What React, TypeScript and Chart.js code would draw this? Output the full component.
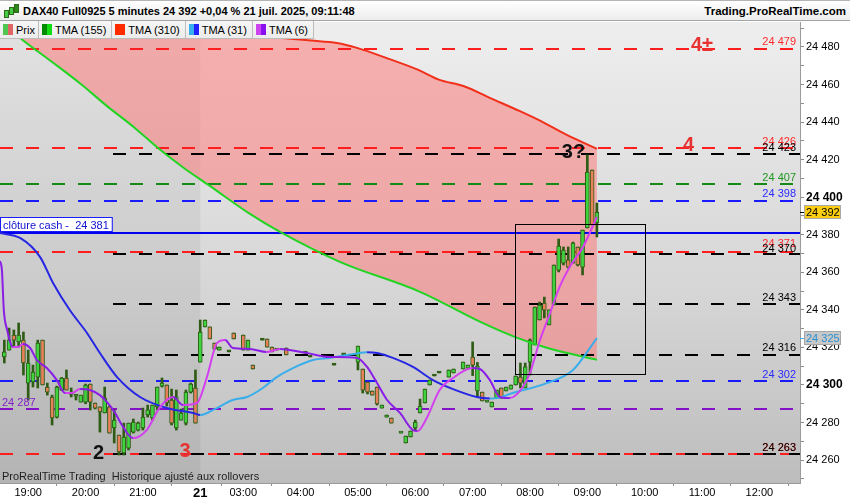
import React, { useEffect, useRef } from 'react';
import { Chart, registerables } from 'chart.js';

Chart.register(...registerables);

const FONT = '"Liberation Sans", Arial, Helvetica, sans-serif';

// ---------- axes ----------
const xTickBars = [3, 15, 27, 39, 48, 60, 72, 84, 96, 108, 120, 132, 144, 156];
const xTickLabels = ['19:00', '20:00', '21:00', '21', '03:00', '04:00', '05:00', '06:00', '07:00', '08:00', '09:00', '10:00', '11:00', '12:00'];
const dayBar = 39;
const xView = [-2.9, 164.5];
const yView = [24247.8, 24493.3];
const yTickValues = [24250, 24260, 24270, 24280, 24290, 24300, 24310, 24320, 24330, 24340, 24350, 24360, 24370, 24380, 24390, 24400, 24410, 24420, 24430, 24440, 24450, 24460, 24470, 24480, 24490];
const yLabelValues = [24260, 24280, 24300, 24320, 24340, 24360, 24380, 24400, 24420, 24440, 24460, 24480];
const yBoldValues = [24300, 24400];

// ---------- price (5 minute bars, index on a bar axis) ----------
const candleBar = [
  -2, -1, 0, 1, 2, 3, 4, 5, 6, 7, 8, 9, 10, 11, 12, 13, 14, 15, 16, 17, 18, 19, 20, 21, 22, 23, 24, 25, 26, 27, 28, 29, 30, 31, 32, 33, 34, 35, 36, 37, 38,
  39, 40, 41, 42, 43, 45, 46, 48, 49, 50, 52, 53, 54, 55, 57, 61, 62, 67, 69,
  72, 73, 74, 75, 76, 77, 78, 79, 81, 82, 83, 84, 85, 86, 87, 88, 89, 91, 92, 94, 95,
  96, 97, 98, 99, 100, 101, 102, 103, 104, 105, 106, 107, 108, 109, 110, 111, 112, 113, 114, 115, 116, 117, 118, 119, 120, 121, 122,
];
const candleOpen = [
  24314.9, 24318.6, 24326.6, 24322.9, 24323.9, 24301.0, 24301.6, 24304.2, 24323.9, 24298.9,
  24293.6, 24282.9, 24297.3, 24303.7, 24295.0, 24294.0, 24290.9, 24290.9, 24300.5, 24290.4,
  24288.3, 24285.1, 24288.3, 24277.1, 24273.3, 24263.8, 24266.4, 24274.9, 24276.0, 24277.1,
  24284.0, 24282.4, 24288.3, 24299.4, 24300.0, 24292.0, 24277.1, 24281.3, 24279.7, 24296.2,
  24298.4,
  24312.2, 24330.9, 24330.9, 24322.3, 24318.6, 24317.6, 24327.7, 24326.6, 24318.6, 24310.6, 24323.9, 24324.5, 24320.2, 24318.6, 24319.7, 24317.0, 24314.9, 24310.6, 24316.0,
  24312.2, 24308.5, 24301.6, 24296.8, 24298.9, 24287.7, 24282.9, 24282.4, 24274.4, 24269.1, 24272.3, 24277.1, 24285.1, 24290.4, 24300.0, 24304.8, 24306.4, 24304.2, 24306.4, 24308.5, 24309.0,
  24314.9, 24296.8, 24296.2, 24290.9, 24288.3, 24293.0, 24298.4, 24296.8, 24297.8, 24300.0, 24304.2, 24298.4, 24312.2, 24321.3, 24334.6, 24343.6, 24332.0, 24342.6, 24361.2, 24364.9, 24366.6, 24364.9, 24373.5, 24362.8, 24383.6, 24414.5, 24386.3,
];
const candleHigh = [
  24323.9, 24330.3, 24329.3, 24333.0, 24328.2, 24318.6, 24310.6, 24323.9, 24323.9, 24301.0,
  24294.6, 24299.4, 24304.0, 24308.0, 24298.4, 24294.6, 24294.6, 24300.5, 24300.5, 24290.4,
  24288.3, 24298.9, 24288.8, 24286.7, 24273.3, 24279.7, 24279.7, 24281.9, 24280.3, 24287.7,
  24289.3, 24289.3, 24298.9, 24303.7, 24300.0, 24297.8, 24297.3, 24287.2, 24297.3, 24301.0,
  24308.0,
  24334.6, 24334.6, 24330.9, 24322.3, 24320.2, 24317.6, 24327.7, 24326.6, 24323.9, 24310.6, 24323.9, 24324.5, 24320.2, 24318.6, 24319.7, 24317.0, 24314.9, 24310.6, 24316.0,
  24320.7, 24308.5, 24301.6, 24296.8, 24298.9, 24289.3, 24284.0, 24282.4, 24274.9, 24272.8, 24275.5, 24281.3, 24292.5, 24297.8, 24302.6, 24304.8, 24306.4, 24308.0, 24308.5, 24312.2, 24310.6,
  24322.9, 24312.0, 24296.2, 24291.5, 24290.9, 24297.3, 24298.4, 24298.9, 24300.0, 24304.8, 24311.7, 24311.7, 24324.5, 24341.5, 24344.2, 24346.8, 24340.0, 24363.9, 24377.7, 24373.5, 24373.5, 24376.1, 24373.5, 24382.5, 24422.5, 24414.5, 24396.9,
];
const candleLow = [
  24311.7, 24318.6, 24320.2, 24320.2, 24305.3, 24292.0, 24298.9, 24298.4, 24300.0, 24294.6,
  24278.7, 24282.4, 24297.0, 24297.3, 24293.6, 24292.0, 24290.9, 24290.0, 24286.7, 24287.2,
  24274.9, 24285.1, 24274.4, 24269.1, 24262.7, 24262.7, 24265.4, 24274.4, 24275.5, 24276.0,
  24282.9, 24281.3, 24286.7, 24298.9, 24288.8, 24278.7, 24276.0, 24281.3, 24278.7, 24295.7,
  24279.7,
  24312.2, 24330.9, 24324.5, 24319.1, 24318.6, 24317.6, 24324.5, 24318.6, 24318.6, 24308.5, 24323.9, 24320.2, 24317.6, 24318.6, 24316.0, 24317.0, 24314.9, 24310.6, 24316.0,
  24308.0, 24295.7, 24295.2, 24294.6, 24289.3, 24287.7, 24282.9, 24279.7, 24274.4, 24269.1, 24272.3, 24276.0, 24285.1, 24290.4, 24300.0, 24304.8, 24306.4, 24304.2, 24306.4, 24308.5, 24309.0,
  24305.0, 24293.6, 24291.5, 24290.9, 24288.3, 24293.0, 24293.0, 24296.8, 24297.8, 24300.0, 24298.4, 24298.4, 24305.3, 24321.3, 24334.6, 24335.7, 24332.0, 24342.6, 24360.2, 24363.9, 24362.3, 24364.9, 24363.4, 24358.6, 24383.6, 24385.2, 24378.8,
];
const candleClose = [
  24317.6, 24323.9, 24323.9, 24326.6, 24311.7, 24311.7, 24306.9, 24322.3, 24300.0, 24296.2,
  24282.4, 24298.9, 24303.7, 24297.3, 24296.2, 24294.5, 24294.6, 24300.0, 24290.9, 24287.7,
  24285.6, 24293.0, 24274.4, 24281.3, 24264.3, 24272.3, 24279.7, 24280.3, 24279.7, 24282.9,
  24286.7, 24289.3, 24298.9, 24301.0, 24290.4, 24279.7, 24293.6, 24285.1, 24296.2, 24300.5,
  24279.7,
  24328.2, 24334.6, 24324.5, 24319.1, 24320.2, 24317.6, 24324.5, 24318.6, 24323.9, 24308.5, 24323.9, 24320.2, 24317.6, 24318.6, 24316.0, 24317.0, 24314.9, 24310.6, 24316.0,
  24320.7, 24297.3, 24296.2, 24294.6, 24289.9, 24289.3, 24284.0, 24279.7, 24274.9, 24272.8, 24275.5, 24280.3, 24288.8, 24297.8, 24302.6, 24304.8, 24306.4, 24308.0, 24308.5, 24312.2, 24310.6,
  24310.6, 24310.0, 24291.5, 24291.5, 24290.9, 24297.3, 24293.0, 24298.9, 24300.0, 24304.8, 24301.0, 24309.6, 24323.9, 24341.5, 24342.6, 24339.9, 24340.0, 24363.9, 24374.0, 24371.9, 24362.8, 24375.6, 24363.9, 24382.5, 24413.4, 24385.2, 24392.0,
];

// ---------- moving averages ----------
const tma310Bar = [-3, 20, 40, 55, 62.2, 67.6, 71.8, 78.3, 84.5, 88.9, 94.2, 99.6, 105.9, 110.3, 115.5, 122];
const tma310Val = [24495, 24491, 24488, 24485, 24483.4, 24482.1, 24479.5, 24473.8, 24467.9, 24462.6, 24459.1, 24452.9, 24445.8, 24440.5, 24433.4, 24425.7];
const tma155Bar = [-3, 1.3, 7.8, 14.2, 19.5, 25.3, 30.1, 35.5, 41.0, 49.4, 55.7, 68.2, 85.0, 97.5, 104.8, 111.5, 122];
const tma155Val = [24494.5, 24484.8, 24472.4, 24459.9, 24448.5, 24436.9, 24426.3, 24415.7, 24406.0, 24391.1, 24381.5, 24365.6, 24349.6, 24333.7, 24325.6, 24319.8, 24313.4];
const tma31Bar = [-2.9, 1.3, 5.5, 8.2, 11.7, 15.3, 18.0, 21.6, 26.4, 32.0, 37.5, 39.0, 41.7, 45.8, 48.8, 52.1, 55.0, 58.4, 62.6, 66.1, 71.8, 73.9, 76.0, 79.3, 83.5, 87.7, 91.9, 96.9, 99.6, 101.1, 104.4, 111.5, 117.0, 122.0];
const tma31Val = [24380.9, 24378.3, 24368.1, 24354.3, 24339.9, 24327.7, 24317.0, 24304.2, 24293.6, 24287.7, 24285.1, 24284.0, 24286.7, 24292.0, 24293.6, 24298.4, 24304.2, 24309.0, 24313.3, 24314.4, 24316.8, 24317.4, 24317.0, 24314.4, 24309.6, 24302.6, 24297.8, 24293.6, 24292.8, 24293.0, 24295.7, 24301.0, 24308.0, 24325.0];
const tma6Bar = [-2.9, -2.5, -2.1, -1.4, -0.2, 0.9, 1.9, 3.4, 4.8, 6.9, 9.0, 10.7, 12.2, 13.8, 15.9, 18.0, 19.5, 21.2, 22.6, 24.9, 27.8, 30.6, 33.3, 35.4, 38.3, 40.4, 42.5, 44.2, 45.8, 49.4, 52.9, 55.7, 61.3, 66.1, 71.8, 73.9, 76.0, 78.1, 80.8, 83.5, 84.5, 86.4, 89.1, 91.9, 96.0, 97.5, 99.6, 101.7, 103.8, 106.5, 108.0, 110.1, 112.2, 114.2, 116.3, 119.1, 122.0];
const tma6Val = [24366.0, 24361.2, 24339.9, 24329.3, 24320.2, 24320.2, 24321.8, 24319.7, 24313.3, 24309.0, 24302.6, 24295.7, 24295.7, 24297.8, 24297.3, 24294.6, 24290.9, 24285.1, 24278.7, 24271.7, 24276.0, 24288.3, 24293.6, 24289.3, 24290.4, 24304.2, 24322.3, 24323.9, 24319.7, 24319.2, 24317.6, 24319.2, 24317.0, 24314.9, 24314.4, 24309.6, 24301.0, 24292.0, 24285.1, 24276.0, 24275.5, 24282.4, 24297.3, 24303.7, 24309.0, 24308.5, 24302.6, 24293.6, 24293.0, 24298.9, 24306.4, 24324.0, 24338.3, 24352.2, 24362.8, 24373.5, 24389.5];

// ---------- horizontal levels ----------
const levelValues = [24479, 24426, 24407, 24398, 24381, 24371, 24302, 24287, 24263, 24423, 24370, 24343, 24316, 24263];
const levelKinds = ['red', 'red', 'green', 'blue', 'cash', 'red', 'blue', 'purple', 'red', 'black', 'black', 'black', 'black', 'black'];
const blackLevelStartBar = 20.7;
const cashLabel = 'clôture cash -  ';

// ---------- annotations ----------
const annText = ['4±', '4', '3?', '2', '3'];
const annBar = [144.0, 141.2, 117.1, 17.7, 35.8];
const annValue = [24480.8, 24427.3, 24423.6, 24263.4, 24264.4];
const annKind = ['red', 'red', 'black', 'black', 'red'];
const boxBars = [104.8, 132.0];
const boxValues = [24385.8, 24305.9];
const sessionStartBar = 39;
const lastPrice = 24392;
const lastTma31 = 24325;

// ---------- header / legend ----------
const titleText = 'DAX40 Full0925 5 minutes 24 392 +0,04 % 21 juil. 2025, 09:11:48';
const siteText = 'Trading.ProRealTime.com';
const footerText = 'ProRealTime Trading  Historique ajusté aux rollovers';
const legendLabels = ['Prix', 'TMA (155)', 'TMA (310)', 'TMA (31)', 'TMA (6)'];
const legendSwatches = [
  ['#4fc64f', '#e06666'],
  ['#008a00', '#12dd12'],
  ['#ff2a00', '#ff2a00'],
  ['#38b0ee', '#2222ff'],
  ['#cc44ee', '#8a10f0'],
];

const UP = '#3fd43f';
const DOWN = '#e8805c';
const OUTLINE = '#2e5c14';

const LEVEL_STYLE: Record<string, { line: string; text: string; dash: boolean }> = {
  red: { line: '#ff1e1e', text: '#ff2b2b', dash: true },
  green: { line: '#168a16', text: '#1f961f', dash: true },
  blue: { line: '#1a1aff', text: '#2a2aff', dash: true },
  cash: { line: '#0000ee', text: '#1010d0', dash: false },
  purple: { line: '#8410c8', text: '#8420c8', dash: true },
  black: { line: '#000000', text: '#000000', dash: true },
};
const ANN_COLOR: Record<string, string> = { red: '#e83232', black: '#111111' };

const fmt = (v: number) => {
  const s = String(Math.round(v));
  return s.slice(0, s.length - 3) + ' ' + s.slice(-3);
};

const decorPlugin = {
  id: 'decor',
  beforeDraw(chart: any) {
    const { ctx, chartArea: a, width, height } = chart;
    const xs = chart.scales.x;
    ctx.save();
    ctx.fillStyle = '#ffffff';
    ctx.fillRect(0, 0, width, height);
    const g = ctx.createLinearGradient(0, a.top, 0, a.bottom);
    g.addColorStop(0, '#eeeeee');
    g.addColorStop(0.6, '#d5d5d5');
    g.addColorStop(1, '#bdbdbd');
    ctx.fillStyle = g;
    ctx.fillRect(a.left, a.top, a.right - a.left, a.bottom - a.top);
    const xd = xs.getPixelForValue(sessionStartBar);
    ctx.fillStyle = 'rgba(0,0,0,0.05)';
    ctx.fillRect(a.left, a.top, xd - a.left, a.bottom - a.top);
    ctx.restore();
  },
  beforeDatasetsDraw(chart: any) {
    const { ctx, chartArea: a } = chart;
    const xs = chart.scales.x;
    const ys = chart.scales.y;
    const red = chart.getDatasetMeta(3).data;
    const green = chart.getDatasetMeta(2).data;
    ctx.save();
    ctx.beginPath();
    ctx.rect(a.left, a.top, a.right - a.left, a.bottom - a.top);
    ctx.clip();
    ctx.beginPath();
    red.forEach((p: any, i: number) => (i ? ctx.lineTo(p.x, p.y) : ctx.moveTo(p.x, p.y)));
    for (let i = green.length - 1; i >= 0; i--) ctx.lineTo(green[i].x, green[i].y);
    ctx.closePath();
    ctx.fillStyle = 'rgba(255,118,118,0.52)';
    ctx.fill();

    levelValues.forEach((v, i) => {
      const st = LEVEL_STYLE[levelKinds[i]];
      const y = Math.round(ys.getPixelForValue(v));
      const x0 = levelKinds[i] === 'black' ? Math.round(xs.getPixelForValue(blackLevelStartBar)) : a.left;
      ctx.beginPath();
      ctx.setLineDash(st.dash ? [13, 13] : []);
      ctx.lineWidth = 2;
      ctx.strokeStyle = st.line;
      ctx.moveTo(x0, y);
      ctx.lineTo(a.right, y);
      ctx.stroke();
    });
    ctx.setLineDash([]);
    ctx.restore();
  },
  afterDraw(chart: any) {
    const { ctx, chartArea: a } = chart;
    const xs = chart.scales.x;
    const ys = chart.scales.y;
    ctx.save();
    // level labels (labels that nearly collide are spread apart a little)
    ctx.font = `11px ${FONT}`;
    ctx.textBaseline = 'alphabetic';
    levelValues.forEach((v, i) => {
      const kind = levelKinds[i];
      const st = LEVEL_STYLE[kind];
      const y = ys.getPixelForValue(v);
      let shift = 0;
      levelValues.forEach((w, j) => {
        if (j === i || levelKinds[j] === 'cash' || levelKinds[j] === 'purple' || w === v) return;
        const d = Math.abs(w - v);
        if (d > 0 && d < 2) shift += v > w ? -1.5 : 2;
      });
      if (kind === 'cash') {
        const text = cashLabel + fmt(v);
        const w = ctx.measureText(text).width + 6;
        const yb = Math.round(y) - 1;
        ctx.fillStyle = '#ffffff';
        ctx.fillRect(a.left, yb - 14, w, 14);
        ctx.strokeStyle = '#1a1aff';
        ctx.lineWidth = 1;
        ctx.strokeRect(a.left + 0.5, yb - 14.5, w, 14);
        ctx.fillStyle = st.text;
        ctx.textAlign = 'left';
        ctx.fillText(text, a.left + 3, yb - 3);
      } else if (kind === 'purple') {
        ctx.fillStyle = st.text;
        ctx.textAlign = 'left';
        ctx.fillText(fmt(v), a.left + 2, y - 3.5);
      } else {
        ctx.fillStyle = st.text;
        ctx.textAlign = 'right';
        ctx.fillText(fmt(v), a.right - 4, y - 3.5 + shift);
      }
    });

    // box
    const bx0 = Math.round(xs.getPixelForValue(boxBars[0])) + 0.5;
    const bx1 = Math.round(xs.getPixelForValue(boxBars[1])) + 0.5;
    const by0 = Math.round(ys.getPixelForValue(boxValues[0])) + 0.5;
    const by1 = Math.round(ys.getPixelForValue(boxValues[1])) + 0.5;
    ctx.strokeStyle = '#000';
    ctx.lineWidth = 1;
    ctx.strokeRect(bx0, by0, bx1 - bx0, by1 - by0);

    // annotations
    ctx.save();
    ctx.beginPath();
    ctx.rect(a.left, a.top, a.right - a.left, a.bottom - a.top);
    ctx.clip();
    ctx.font = `bold 20px ${FONT}`;
    ctx.textAlign = 'center';
    ctx.textBaseline = 'middle';
    annText.forEach((t, i) => {
      ctx.fillStyle = ANN_COLOR[annKind[i]];
      ctx.fillText(t, xs.getPixelForValue(annBar[i]), ys.getPixelForValue(annValue[i]));
    });
    ctx.restore();

    // footer text
    ctx.font = `11px ${FONT}`;
    ctx.textAlign = 'left';
    ctx.textBaseline = 'alphabetic';
    ctx.fillStyle = '#1e1e1e';
    ctx.fillText(footerText, a.left + 2, a.bottom - 3);

    // axis value boxes
    const axisBox = (v: number, fill: string, stroke: string, color: string, tick: string) => {
      const y = Math.round(ys.getPixelForValue(v));
      ctx.strokeStyle = tick;
      ctx.lineWidth = 1;
      ctx.beginPath();
      ctx.moveTo(a.right, y + 0.5);
      ctx.lineTo(a.right + 5, y + 0.5);
      ctx.stroke();
      ctx.fillStyle = fill;
      ctx.fillRect(a.right + 4, y - 7, 37, 14);
      ctx.strokeStyle = stroke;
      ctx.strokeRect(a.right + 4.5, y - 6.5, 36, 13);
      ctx.fillStyle = color;
      ctx.font = `11px ${FONT}`;
      ctx.textAlign = 'left';
      ctx.textBaseline = 'middle';
      ctx.fillText(fmt(v), a.right + 6, y + 0.5);
    };
    axisBox(lastTma31, '#c8c8c8', '#a6a6a6', '#2a8fd2', '#3aaeea');
    axisBox(lastPrice, '#fcce12', '#a8a8a8', '#000000', '#000000');
    ctx.restore();
  },
};

export default function App() {
  const canvasRef = useRef<HTMLCanvasElement | null>(null);

  useEffect(() => {
    const canvas = canvasRef.current;
    if (!canvas) return;
    const bodyColors = candleBar.map((_, i) =>
      candleClose[i] > candleOpen[i] ? UP : candleClose[i] < candleOpen[i] ? DOWN : OUTLINE,
    );
    const toPts = (bars: number[], vals: number[]) => bars.map((x, i) => ({ x, y: vals[i] }));
    const lineDs = (label: string, bars: number[], vals: number[], rising: string, falling: string) => ({
      type: 'line' as const,
      label,
      data: toPts(bars, vals),
      borderColor: falling,
      borderWidth: 2,
      pointRadius: 0,
      fill: false,
      cubicInterpolationMode: 'monotone' as const,
      segment: {
        borderColor: (c: any) => (c.p1.parsed.y >= c.p0.parsed.y ? rising : falling),
      },
      order: 0,
    });

    const chart = new Chart(canvas, {
      type: 'bar',
      data: {
        datasets: [
          lineDs('TMA (6)', tma6Bar, tma6Val, '#d43ff0', '#8a1ee6'),
          lineDs('TMA (31)', tma31Bar, tma31Val, '#3aaeea', '#2626e4'),
          lineDs('TMA (155)', tma155Bar, tma155Val, '#00a000', '#22d422'),
          lineDs('TMA (310)', tma310Bar, tma310Val, '#f0301a', '#f0301a'),
          {
            type: 'bar' as const,
            label: 'body',
            data: candleBar.map((x, i) => ({
              x,
              y: [Math.min(candleOpen[i], candleClose[i]), Math.max(candleOpen[i], candleClose[i])],
            })) as any,
            backgroundColor: bodyColors,
            borderColor: OUTLINE,
            borderWidth: 1,
            borderSkipped: false,
            barThickness: 4,
            minBarLength: 2,
            grouped: false,
            order: 1,
          },
          {
            type: 'bar' as const,
            label: 'wick',
            data: candleBar.map((x, i) => ({ x, y: [candleLow[i], candleHigh[i]] })) as any,
            backgroundColor: OUTLINE,
            borderWidth: 0,
            barThickness: 2,
            minBarLength: 1,
            grouped: false,
            order: 2,
          },
        ] as any,
      },
      options: {
        responsive: false,
        maintainAspectRatio: false,
        animation: false,
        devicePixelRatio: 1,
        events: [],
        layout: { padding: { top: 22, left: 0, right: 0, bottom: 0 } },
        plugins: { legend: { display: false }, tooltip: { enabled: false }, title: { display: false } },
        scales: {
          x: {
            type: 'linear',
            min: xView[0],
            max: xView[1],
            offset: false,
            bounds: 'data',
            afterBuildTicks: (s: any) => {
              s.ticks = xTickBars.map((value) => ({ value }));
            },
            afterFit: (s: any) => {
              s.height = 17;
            },
            grid: { drawOnChartArea: false, tickLength: 3, color: '#8c8c8c' },
            border: { display: true, color: '#9a9a9a' },
            ticks: {
              autoSkip: false,
              maxRotation: 0,
              minRotation: 0,
              padding: 0,
              color: '#000000',
              callback: (v: any) => {
                const i = xTickBars.indexOf(Number(v));
                return i >= 0 ? xTickLabels[i] : '';
              },
              font: (c: any) =>
                c.tick && c.tick.value === dayBar
                  ? { family: FONT, size: 13, weight: 'bold' }
                  : { family: FONT, size: 11 },
            },
          },
          y: {
            type: 'linear',
            position: 'right',
            min: yView[0],
            max: yView[1],
            bounds: 'data',
            afterBuildTicks: (s: any) => {
              s.ticks = yTickValues.map((value) => ({ value }));
            },
            afterFit: (s: any) => {
              s.width = 50;
            },
            grid: { drawOnChartArea: false, tickLength: 4, color: '#8c8c8c' },
            border: { display: true, color: '#9a9a9a' },
            ticks: {
              padding: 2,
              color: '#000000',
              callback: (v: any) => (yLabelValues.includes(Number(v)) ? fmt(Number(v)) : ''),
              font: (c: any) =>
                c.tick && yBoldValues.includes(c.tick.value)
                  ? { family: FONT, size: 12, weight: 'bold' }
                  : { family: FONT, size: 11 },
            },
          },
        },
      } as any,
      plugins: [decorPlugin],
    });
    return () => chart.destroy();
  }, []);

  return (
    <div style={{ position: 'fixed', left: 0, top: 0, width: 850, height: 500, background: '#fff', overflow: 'hidden' }}>
      <canvas ref={canvasRef} width={850} height={500} style={{ position: 'absolute', left: 0, top: 0, width: 850, height: 500 }} />
      <div
        style={{
          position: 'absolute', left: 0, top: 0, width: 850, height: 21, boxSizing: 'border-box',
          borderTop: '1px solid #b4b4b4', borderBottom: '1px solid #a4a4a4',
          background: 'linear-gradient(#ffffff, #ededed)',
        }}
      >
        <div style={{ position: 'absolute', left: 4, top: 9, width: 3, height: 6, background: '#44cc44', border: '1px solid #2e6a1a' }} />
        <div style={{ position: 'absolute', left: 9, top: 6, width: 3, height: 6, background: '#44cc44', border: '1px solid #2e6a1a' }} />
        <div style={{ position: 'absolute', left: 14, top: 3, width: 3, height: 7, background: '#2e8a1a', border: '1px solid #2e6a1a' }} />
        <div style={{ position: 'absolute', left: 23, top: 3, font: `bold 11px ${FONT}`, lineHeight: '14px', color: '#000', whiteSpace: 'nowrap' }}>
          {titleText}
        </div>
        <div style={{ position: 'absolute', right: 4, top: 3, font: `bold 11.5px ${FONT}`, lineHeight: '14px', color: '#000', whiteSpace: 'nowrap' }}>
          {siteText}
        </div>
      </div>
      <div style={{ position: 'absolute', left: 0, top: 21, height: 18, display: 'flex' }}>
        {legendLabels.map((label, i) => (
          <div
            key={label}
            style={{
              height: 18, boxSizing: 'border-box', display: 'flex', alignItems: 'center',
              padding: i === 0 ? '0 3px 0 3px' : '0 5px 0 3px', borderRight: '1px solid #bcbcbc', borderBottom: '1px solid #bcbcbc',
              background: 'linear-gradient(#f6f6f6, #ececec)', font: `11px ${FONT}`, color: '#000', whiteSpace: 'nowrap',
            }}
          >
            <span style={{ display: 'inline-block', width: 5, height: 11, background: legendSwatches[i][0] }} />
            <span style={{ display: 'inline-block', width: 5, height: 11, background: legendSwatches[i][1] }} />
            <span style={{ marginLeft: 3 }}>{label}</span>
          </div>
        ))}
      </div>
    </div>
  );
}
